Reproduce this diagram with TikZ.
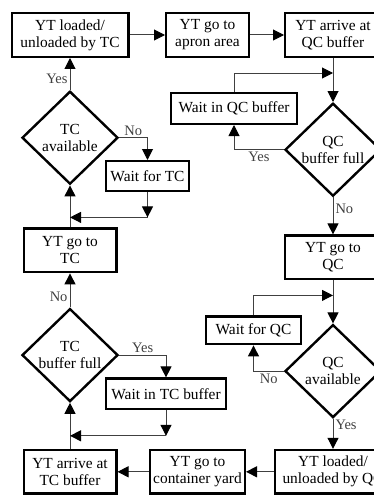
\documentclass[tikz,border=0pt]{standalone}
\usepackage{fontspec}
\setmainfont{Liberation Serif}
\usepackage{tikz}
\usetikzlibrary{positioning, arrows.meta, shapes.geometric, calc}

\newcommand{\flowfont}{\fontsize{15.4}{17}\selectfont}
\newcommand{\yesnofont}{\fontsize{14.5}{16}\selectfont}

\begin{document}
\begin{tikzpicture}[
    x=1pt, y=1pt,
    box/.style={rectangle, draw, line width=2.4pt, align=center, font=\flowfont, inner sep=2pt, minimum height=43.6pt},
    wbox/.style={box, minimum height=30.6pt},
    dec/.style={diamond, draw, line width=2.4pt, align=center, font=\flowfont, aspect=1.04, inner sep=0.5pt, minimum width=96pt, minimum height=93pt},
    arr/.style={-{Triangle[length=11pt, width=11pt, color=black]}, line width=1pt, black!75},
    lbl/.style={font=\yesnofont, inner sep=2pt},
]
\useasboundingbox (0,0) rectangle (374,-495);
\clip (0,0) rectangle (374,-495);

% TC side (left column)
\node[box, minimum width=116.6pt] (ltc) at (70,-35) {YT loaded/\\unloaded by TC};
\node[dec, below=32pt of ltc] (tca) {TC\\available};
\node[box, minimum width=92.6pt, below=42pt of tca] (gtc) {YT go to\\TC};
\node[dec, below=34pt of gtc] (tbf) {TC\\buffer full};
\node[box, minimum width=92.6pt, below=46pt of tbf] (atc) {YT arrive at\\TC buffer};

% top row
\node[box, minimum width=82.6pt, right=35.5pt of ltc] (apron) {YT go to\\apron area};
\node[box, minimum width=95.6pt, right=34pt of apron] (aqc) {YT arrive at\\QC buffer};

% QC side (right column)
\node[dec, below=44pt of aqc] (qbf) {QC\\buffer full};
\node[box, minimum width=95.6pt, below=37pt of qbf] (gqc) {YT go to\\QC};
\node[dec, below=43pt of gqc] (qca) {QC\\available};
\node[box, minimum width=116.6pt, below=30pt of qca] (lqc) {YT loaded/\\unloaded by QC};

% bottom row
\node[box, minimum width=94.6pt, left=27.5pt of lqc] (gcy) {YT go to\\container yard};

% waiting boxes
\node[wbox, minimum width=82.6pt, minimum height=29.6pt, below=102pt of ltc, xshift=77.5pt] (wtc) {Wait for TC};
\node[wbox, minimum width=119.6pt, below=104pt of gtc, xshift=96pt] (wtcb) {Wait in TC buffer};
\node[wbox, minimum width=125.6pt, below=34pt of aqc, xshift=-99pt] (wqcb) {Wait in QC buffer};
\node[wbox, minimum width=94.6pt, minimum height=27.6pt, below=35pt of gqc, xshift=-79.5pt] (wqc) {Wait for QC};

% junction points on the main lines
\coordinate (j1) at ($(aqc.south)+(0,-15)$);
\coordinate (j2) at ($(gqc.south)+(0,-15)$);
\coordinate (j3) at ($(gtc.north)+(0,10)$);
\coordinate (j4) at ($(atc.north)+(0,13)$);
\coordinate (c3) at (wtc.south |- j3);
\coordinate (c4) at (wtcb.south |- j4);

% main flow
\draw[arr] (ltc) -- (apron);
\draw[arr] (apron) -- (aqc);
\draw[arr] (aqc.south) -- (qbf.north);
\draw[arr] (qbf.south) -- node[lbl, right, pos=0.3]{No} (gqc.north);
\draw[arr] (gqc.south) -- (qca.north);
\draw[arr] (qca.south) -- node[lbl, right, pos=0.2]{Yes} (lqc.north);
\draw[arr] (lqc) -- (gcy);
\draw[arr] (gcy) -- (atc);
\draw[arr] (atc.north) -- (tbf.south);
\draw[arr] (tbf.north) -- node[lbl, left, pos=0.3]{No} (gtc.south);
\draw[arr] (gtc.north) -- (tca.south);
\draw[arr] (tca.north) -- node[lbl, left, pos=0.35]{Yes} (ltc.south);

% QC buffer loop
\draw[arr] (qbf.west) -| node[lbl, below, pos=0.25]{Yes} (wqcb.south);
\draw[arr] (wqcb.north) |- (j1);

% QC available loop
\draw[arr] (qca.west) -| node[lbl, below, pos=0.25]{No} (wqc.south);
\draw[arr] (wqc.north) |- (j2);

% TC available loop
\draw[arr] (tca.east) -| node[lbl, above, pos=0.25]{No} (wtc.north);
\draw[arr] (wtc.south) -- (c3);
\draw[arr] (c3) -- (j3);

% TC buffer loop
\draw[arr] (tbf.east) -| node[lbl, above, pos=0.25]{Yes} (wtcb.north);
\draw[arr] (wtcb.south) -- (c4);
\draw[arr] (c4) -- (j4);

\end{tikzpicture}
\end{document}
